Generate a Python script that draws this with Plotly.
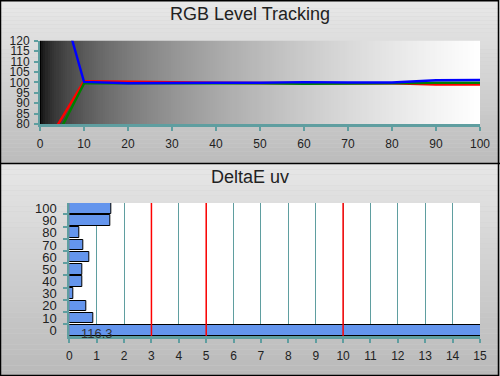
import plotly.graph_objects as go
import numpy as np

# ---------------- data ----------------
levels = [0, 10, 20, 30, 40, 50, 60, 70, 80, 90, 100]
red_vals = [65.5, 100.5, 100.3, 99.9, 99.8, 99.7, 99.8, 99.6, 99.6, 98.9, 98.9]
green_vals = [58.0, 99.5, 99.5, 99.6, 99.6, 99.6, 99.3, 99.3, 99.5, 99.8, 99.8]
blue_vals = [175.0, 100.2, 99.6, 99.8, 99.8, 99.8, 100.1, 99.9, 99.9, 101.0, 101.1]

de_levels = [0, 10, 20, 30, 40, 50, 60, 70, 80, 90, 100]
de_values = [116.3, 0.89, 0.63, 0.13, 0.46, 0.47, 0.72, 0.51, 0.36, 1.50, 1.54]
ref_lines = [3, 5, 10]

W, H = 500, 376
TEAL = "#5f9ea0"
TXT = "#222222"
FONT = "Liberation Sans, Arial, sans-serif"

fig = go.Figure()

# ---- top panel background: gamma gradient heatmap ----
gx = np.linspace(0, 100, 201)
gz = (gx / 100.0) ** (1 / 2.2)
fig.add_trace(go.Heatmap(x=gx, y=[80, 120], z=[gz, gz], colorscale=[[0, "#000000"], [1, "#ffffff"]],
                         zmin=0, zmax=1, showscale=False, hoverinfo="skip", xaxis="x", yaxis="y"))

for vals, col in [(red_vals, "#ff0000"), (green_vals, "#008000"), (blue_vals, "#0000ff")]:
    fig.add_trace(go.Scatter(x=levels, y=vals, mode="lines", line=dict(color=col, width=2.4),
                             showlegend=False, xaxis="x", yaxis="y"))

# ---- bottom bars ----
fig.add_trace(go.Bar(x=de_values, y=de_levels, orientation="h", width=8.8,
                     marker=dict(color="#6495ed", line=dict(color="black", width=1)),
                     showlegend=False, xaxis="x2", yaxis="y2"))

shapes = []
# panel gradients
def panel(y_top, y_bot, c_top, c_bot, n=40):
    for i in range(n):
        t = i / (n - 1)
        c = int(round(c_top + (c_bot - c_top) * t))
        y0 = y_top + (y_bot - y_top) * i / n
        y1 = y_top + (y_bot - y_top) * (i + 1) / n
        shapes.append(dict(type="rect", xref="paper", yref="paper", x0=0, x1=1,
                           y0=1 - y1 / H, y1=1 - y0 / H, line=dict(width=0),
                           fillcolor=f"rgb({c},{c},{c})", layer="below"))

panel(0, 164, 232, 188)
panel(164, 376, 230, 186)
# bottom plot white area
shapes.append(dict(type="rect", xref="x2 domain", yref="y2 domain", x0=0, x1=1, y0=0, y1=1,
                   line=dict(width=0), fillcolor="white", layer="below"))
# borders
shapes.append(dict(type="rect", xref="paper", yref="paper", x0=0.001, x1=0.997, y0=0.0015, y1=0.998,
                   line=dict(color="black", width=1.5), fillcolor="rgba(0,0,0,0)", layer="above"))
shapes.append(dict(type="line", xref="paper", yref="paper", x0=0, x1=1, y0=1 - 163.5 / H, y1=1 - 163.5 / H,
                   line=dict(color="black", width=1.5), layer="above"))
# reference red lines
for r in ref_lines:
    shapes.append(dict(type="line", xref="x2", yref="y2 domain", x0=r, x1=r, y0=0, y1=1,
                       line=dict(color="#ff0000", width=1.5), layer="above"))

annotations = [
    dict(text="RGB Level Tracking", x=0.5, y=1 - 14 / H, xref="paper", yref="paper", showarrow=False,
         font=dict(size=18, color=TXT, family=FONT), xanchor="center", yanchor="middle"),
    dict(text="DeltaE uv", x=0.5, y=1 - 177 / H, xref="paper", yref="paper", showarrow=False,
         font=dict(size=18, color=TXT, family=FONT), xanchor="center", yanchor="middle"),
    dict(text=f"{de_values[0]}", x=1.02, y=-2.5, xref="x2", yref="y2", showarrow=False,
         font=dict(size=13, color="#333333", family=FONT), xanchor="center", yanchor="middle"),
]

fig.update_layout(
    width=W, height=H, autosize=False,
    margin=dict(l=0, r=0, t=0, b=0),
    paper_bgcolor="#d0d0d0", plot_bgcolor="rgba(0,0,0,0)",
    font=dict(family=FONT, size=12, color=TXT),
    showlegend=False, bargap=0,
    shapes=shapes, annotations=annotations,
    xaxis=dict(domain=[40 / W, 480 / W], range=[0, 100], dtick=10, showgrid=False, zeroline=False,
               showline=True, linecolor=TEAL, linewidth=3, ticks="outside", ticklen=4, tickwidth=2,
               tickcolor=TEAL, tickfont=dict(size=12, color=TXT), anchor="y", automargin=False,
               ticklabelstandoff=3),
    yaxis=dict(domain=[1 - 124 / H, 1 - 40.7 / H], range=[80, 120], dtick=5, showgrid=True, gridcolor=TEAL,
               gridwidth=1.5, zeroline=False, showline=True, linecolor=TEAL, linewidth=2, ticks="outside",
               ticklen=4, tickwidth=2, tickcolor=TEAL, tickfont=dict(size=12, color=TXT), anchor="x",
               automargin=False, ticklabelstandoff=2),
    xaxis2=dict(domain=[69.3 / W, 480 / W], range=[0, 15], dtick=1, showgrid=True, gridcolor=TEAL,
                gridwidth=1.2, zeroline=False, showline=True, linecolor=TEAL, linewidth=3, ticks="outside",
                ticklen=4, tickwidth=2, tickcolor=TEAL, tickfont=dict(size=12, color=TXT), anchor="y2",
                automargin=False, ticklabelstandoff=3),
    yaxis2=dict(domain=[1 - 336 / H, 1 - 203 / H], range=[-4.7, 104.4], tickvals=de_levels,
                showgrid=False, zeroline=False, showline=True, linecolor=TEAL, linewidth=2, ticks="",
                tickfont=dict(size=13, color=TXT), ticklabelstandoff=8,
                minor=dict(ticks="outside", tick0=-5, dtick=10, ticklen=4, tickwidth=2, tickcolor=TEAL),
                anchor="x2", automargin=False),
)

fig.write_html("out.html", config={"displayModeBar": False},
               post_script="document.body.style.margin='0';document.body.style.overflow='hidden';")
